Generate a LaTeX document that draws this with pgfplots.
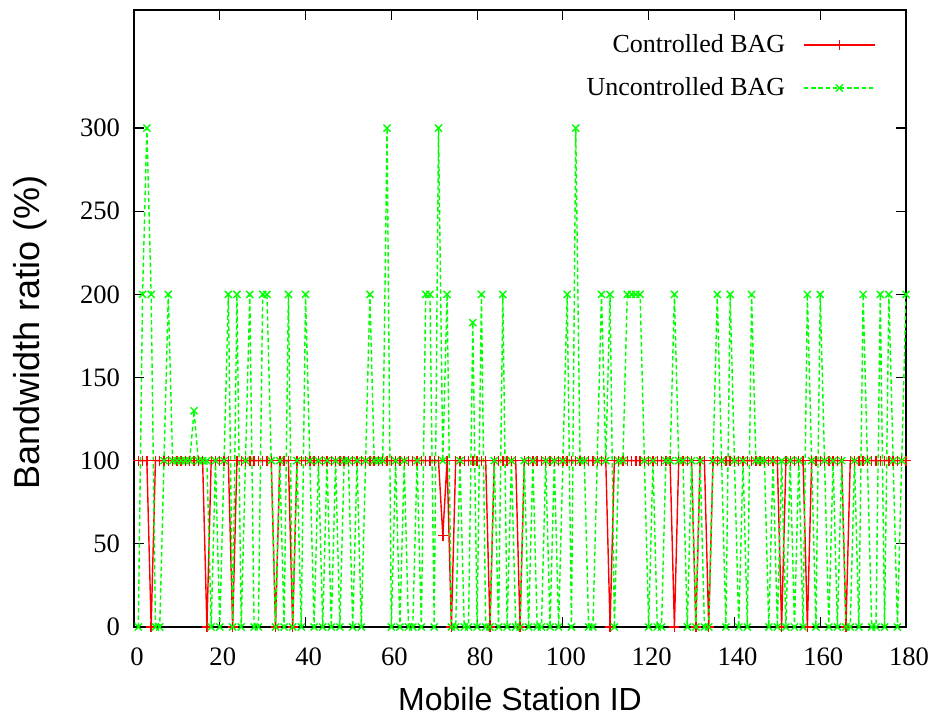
\documentclass[border=0pt]{standalone}
\usepackage{pgfplots}
\usepackage{pgfplotstable}
\pgfplotsset{compat=1.18}
\usepackage{fontspec}
\setmainfont{Liberation Serif}
\newfontfamily\arial{Liberation Sans}
\definecolor{gpred}{RGB}{255,0,0}
\definecolor{gpgreen}{RGB}{0,255,0}

% x = mobile station, c = controlled BAG, u = uncontrolled BAG
\pgfplotstableread{
x c u
1 100 0
2 100 200
3 100 300
4 0 200
5 100 0
6 100 0
7 100 100
8 100 200
9 100 100
10 100 100
11 100 100
12 100 100
13 100 100
14 100 130
15 100 100
16 100 100
17 0 100
18 100 0
19 100 100
20 100 0
21 100 100
22 100 200
23 0 0
24 100 200
25 100 0
26 100 100
27 100 200
28 100 0
29 100 0
30 100 200
31 100 200
32 100 100
33 0 0
34 100 100
35 100 0
36 100 200
37 0 0
38 100 100
39 100 0
40 100 200
41 100 100
42 100 0
43 100 100
44 100 0
45 100 100
46 100 0
47 100 100
48 100 0
49 100 100
50 100 100
51 100 0
52 100 100
53 100 0
54 100 100
55 100 200
56 100 100
57 100 100
58 100 100
59 100 300
60 100 0
61 100 100
62 100 0
63 100 100
64 100 0
65 100 0
66 100 100
67 100 0
68 100 200
69 100 200
70 100 0
71 100 300
72 55 100
73 100 200
74 0 0
75 100 0
76 100 100
77 100 0
78 100 0
79 100 183
80 100 0
81 100 200
82 100 0
83 0 0
84 100 100
85 100 0
86 100 200
87 100 0
88 100 100
89 100 0
90 0 0
91 100 100
92 100 0
93 100 100
94 100 0
95 100 0
96 100 100
97 100 0
98 100 100
99 100 0
100 100 100
101 100 200
102 100 0
103 100 300
104 100 100
105 100 100
106 100 0
107 100 0
108 100 100
109 100 200
110 100 100
111 0 200
112 100 0
113 100 100
114 100 100
115 100 200
116 100 200
117 100 200
118 100 200
119 100 100
120 100 0
121 100 100
122 100 0
123 100 0
124 100 100
125 100 100
126 0 200
127 100 100
128 100 100
129 100 0
130 100 100
131 0 0
132 100 100
133 100 0
134 0 0
135 100 100
136 100 200
137 100 100
138 100 0
139 100 200
140 100 100
141 100 0
142 100 100
143 100 0
144 100 200
145 100 100
146 100 100
147 100 100
148 100 0
149 100 100
150 100 0
151 0 100
152 100 0
153 100 100
154 100 0
155 100 100
156 100 0
157 0 200
158 100 100
159 100 0
160 100 200
161 100 100
162 100 0
163 100 100
164 100 0
165 100 100
166 0 0
167 100 0
168 100 100
169 100 0
170 100 200
171 100 100
172 100 0
173 100 0
174 100 200
175 100 0
176 100 200
177 100 100
178 100 0
179 100 100
180 100 200
}\bagdata

\begin{document}
\begin{tikzpicture}
\begin{axis}[
    scale only axis,
    width=386pt, height=308.5pt,
    xmin=0, xmax=180, ymin=0, ymax=371,
    xtick={0,20,...,180},
    ytick={0,50,...,300},
    tick align=inside,
    major tick length=5pt,
    tick style={black, line width=0.6pt},
    axis line style={black, line width=0.6pt},
    /pgf/number format/assume math mode=true,
    ticklabel style={font=\fontsize{13.3}{15}\selectfont},
    xticklabel style={yshift=-7pt, xshift=1.5pt},
    yticklabel style={xshift=-3.5pt},
    xlabel={\arial Mobile Station ID},
    ylabel={\arial Bandwidth ratio (\%)},
    xlabel style={font=\fontsize{16}{19}\selectfont, at={(axis description cs:0.5,-0.117)}, anchor=center},
    ylabel style={font=\fontsize{18}{21}\selectfont, at={(axis description cs:-0.135,0.478)}, anchor=center},
    legend plot pos=right,
    legend cell align=right,
    legend style={draw=none, fill=none, at={(rel axis cs:1,1)}, anchor=north east,
        xshift=-12pt, yshift=-8pt, font=\fontsize{13}{15}\selectfont, row sep=7pt},
    legend image code/.code={\path (0pt,0pt); \draw[mark repeat=2,mark phase=2,#1] plot coordinates {(7pt,0pt) (24.75pt,0pt) (42.5pt,0pt)};},
]
\addplot[gpred, line width=0.7pt, mark=+, mark size=2.5pt] table[x=x, y=c] {\bagdata};
\addlegendentry{Controlled BAG}
\addplot[gpgreen, line width=0.7pt, dash pattern=on 2.2pt off 1.4pt, mark=x, mark size=2.5pt, mark options={solid}] table[x=x, y=u] {\bagdata};
\addlegendentry{Uncontrolled BAG}
\end{axis}
\pgfresetboundingbox
\path ([shift={(-67pt,-47.5pt)}]current axis.south west) rectangle ([shift={(14pt,5pt)}]current axis.north east);
\end{tikzpicture}
\end{document}
